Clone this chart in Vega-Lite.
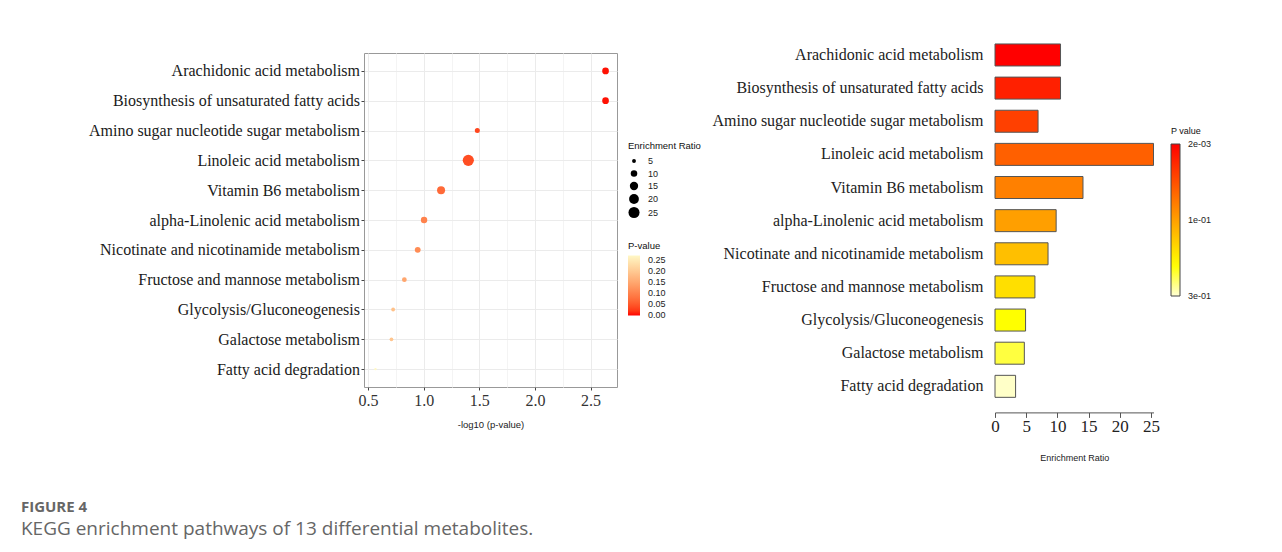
{
  "$schema": "https://vega.github.io/schema/vega-lite/v6.json",
  "background": "white",
  "padding": {"left": 20, "top": 43, "right": 5, "bottom": 5},
  "data": {
    "values": [
      {"Pathway": "Arachidonic acid metabolism", "neglogp": 2.635, "p": 0.00232, "ratio": 10.5},
      {"Pathway": "Biosynthesis of unsaturated fatty acids", "neglogp": 2.635, "p": 0.00232, "ratio": 10.5},
      {"Pathway": "Amino sugar nucleotide sugar metabolism", "neglogp": 1.482, "p": 0.033, "ratio": 6.9},
      {"Pathway": "Linoleic acid metabolism", "neglogp": 1.401, "p": 0.0397, "ratio": 25.4},
      {"Pathway": "Vitamin B6 metabolism", "neglogp": 1.156, "p": 0.0698, "ratio": 14.1},
      {"Pathway": "alpha-Linolenic acid metabolism", "neglogp": 1.003, "p": 0.0993, "ratio": 9.8},
      {"Pathway": "Nicotinate and nicotinamide metabolism", "neglogp": 0.946, "p": 0.1132, "ratio": 8.5},
      {"Pathway": "Fructose and mannose metabolism", "neglogp": 0.826, "p": 0.1493, "ratio": 6.4},
      {"Pathway": "Glycolysis/Gluconeogenesis", "neglogp": 0.725, "p": 0.1884, "ratio": 4.9},
      {"Pathway": "Galactose metabolism", "neglogp": 0.71, "p": 0.195, "ratio": 4.7},
      {"Pathway": "Fatty acid degradation", "neglogp": 0.566, "p": 0.2716, "ratio": 3.3}
    ]
  },
  "title": {
    "text": "FIGURE 4",
    "subtitle": "KEGG enrichment pathways of 13 differential metabolites.",
    "orient": "bottom",
    "anchor": "start",
    "font": "Open Sans",
    "fontSize": 15,
    "fontWeight": "bold",
    "color": "#666666",
    "subtitleFont": "Open Sans",
    "subtitleFontSize": 19,
    "subtitleColor": "#666666",
    "subtitlePadding": 5,
    "offset": 38,
    "dx": -67
  },
  "spacing": 9,
  "resolve": {
    "scale": {"color": "independent", "size": "independent", "fill": "independent", "x": "independent", "y": "independent"},
    "legend": {"color": "independent", "size": "independent"}
  },
  "hconcat": [
    {
      "width": 253,
      "height": 334,
      "view": {"stroke": "#999999", "strokeWidth": 1},
      "mark": {"type": "circle", "opacity": 1},
      "encoding": {
        "x": {
          "field": "neglogp",
          "type": "quantitative",
          "scale": {"domain": [0.463, 2.738], "nice": false, "zero": false},
          "axis": {
            "values": [0.5, 0.75, 1, 1.25, 1.5, 1.75, 2, 2.25, 2.5],
            "labelExpr": "datum.value % 0.5 == 0 ? format(datum.value, '.1f') : ''",
            "title": "-log10 (p-value)",
            "titleFont": "Liberation Sans",
            "titleFontSize": 9.5,
            "titleFontWeight": "normal",
            "titleColor": "#222222",
            "titlePadding": 11,
            "labelFont": "Liberation Serif",
            "labelFontSize": 16,
            "labelColor": "#333333",
            "labelPadding": 2,
            "labelOverlap": false,
            "labelFlush": false,
            "grid": true,
            "gridColor": {"condition": {"test": "datum.value % 0.5 == 0", "value": "#EBEBEB"}, "value": "#F4F4F4"},
            "tickOpacity": {"condition": {"test": "datum.value % 0.5 == 0", "value": 1}, "value": 0},
            "tickColor": "#444444",
            "tickSize": 3,
            "domain": false
          }
        },
        "y": {
          "field": "Pathway",
          "type": "nominal",
          "sort": null,
          "scale": {"type": "point", "padding": 0.6},
          "axis": {
            "title": null,
            "labelFont": "Liberation Serif",
            "labelFontSize": 16,
            "labelColor": "#1a1a1a",
            "labelPadding": 1.5,
            "labelLimit": 0,
            "tickSize": 3,
            "tickColor": "#444444",
            "grid": true,
            "gridColor": "#EBEBEB",
            "domain": false
          }
        },
        "size": {
          "field": "ratio",
          "type": "quantitative",
          "scale": {"domain": [3.3, 25.4], "range": [6, 125], "zero": false, "nice": false},
          "legend": {
            "title": "Enrichment Ratio",
            "values": [5, 10, 15, 20, 25],
            "orient": "none",
            "legendX": 264,
            "legendY": 88,
            "symbolFillColor": "black",
            "symbolStrokeColor": "black",
            "symbolStrokeWidth": 0,
            "symbolOpacity": 1,
            "rowPadding": 2.5,
            "labelOffset": 8,
            "titleFont": "Liberation Sans",
            "titleFontSize": 9.5,
            "titleFontWeight": "normal",
            "titleColor": "#111111",
            "titlePadding": 6,
            "labelFont": "Liberation Sans",
            "labelFontSize": 9,
            "labelColor": "#222222"
          }
        },
        "color": {
          "field": "p",
          "type": "quantitative",
          "scale": {"domain": [-0.001, 0.272], "range": ["#FF0000", "#FFF8C6"], "interpolate": "lab", "nice": false, "zero": false},
          "legend": {
            "title": "P-value",
            "values": [0, 0.05, 0.1, 0.15, 0.2, 0.25],
            "format": ".2f",
            "orient": "none",
            "legendX": 264,
            "legendY": 188,
            "gradientLength": 60,
            "gradientThickness": 12,
            "gradientStrokeWidth": 0,
            "labelOverlap": false,
            "labelOffset": 8,
            "titleFont": "Liberation Sans",
            "titleFontSize": 9.5,
            "titleFontWeight": "normal",
            "titleColor": "#111111",
            "titlePadding": 5,
            "labelFont": "Liberation Sans",
            "labelFontSize": 9,
            "labelColor": "#222222"
          }
        }
      }
    },
    {
      "width": 158.5,
      "height": 334,
      "view": {"stroke": null},
      "encoding": {
        "y": {
          "field": "Pathway",
          "type": "nominal",
          "sort": null,
          "scale": {"paddingInner": 0.336, "paddingOuter": 0.168, "range": [-14.6, 349.9]},
          "axis": {
            "title": null,
            "ticks": false,
            "domain": false,
            "grid": false,
            "labelPadding": 12,
            "labelLimit": 0,
            "labelFont": "Liberation Serif",
            "labelFontSize": 16,
            "labelColor": "#222222"
          }
        },
        "x": {
          "field": "ratio",
          "type": "quantitative",
          "scale": {"domain": [0, 25.4], "nice": false},
          "axis": {
            "values": [0, 5, 10, 15, 20, 25],
            "title": "Enrichment Ratio",
            "titleFont": "Liberation Sans",
            "titleFontSize": 9,
            "titleFontWeight": "normal",
            "titleColor": "#222222",
            "titlePadding": 19,
            "offset": 25.4,
            "grid": false,
            "domainColor": "#555555",
            "tickColor": "#555555",
            "tickSize": 5,
            "labelFont": "Liberation Serif",
            "labelFontSize": 17,
            "labelColor": "#222222",
            "labelPadding": 1,
            "labelOverlap": false,
            "labelFlush": false
          }
        }
      },
      "layer": [
        {
          "mark": {"type": "bar", "stroke": "#555555", "strokeWidth": 1},
          "encoding": {
            "fill": {
              "field": "Pathway",
              "type": "nominal",
              "scale": {
                "domain": ["Arachidonic acid metabolism", "Biosynthesis of unsaturated fatty acids", "Amino sugar nucleotide sugar metabolism", "Linoleic acid metabolism", "Vitamin B6 metabolism", "alpha-Linolenic acid metabolism", "Nicotinate and nicotinamide metabolism", "Fructose and mannose metabolism", "Glycolysis/Gluconeogenesis", "Galactose metabolism", "Fatty acid degradation"],
                "range": ["#FF0000", "#FF2000", "#FF4000", "#FF6000", "#FF8000", "#FF9F00", "#FFBF00", "#FFDF00", "#FFFF00", "#FFFF40", "#FFFFC8"]
              },
              "legend": null
            }
          }
        },
        {
          "mark": {"type": "point", "opacity": 0},
          "encoding": {
            "color": {
              "field": "p",
              "type": "quantitative",
              "scale": {"domain": [0.272, 0.218, 0.0023], "range": ["#FFFFD5", "#FFFF00", "#FF0000"], "interpolate": "rgb", "nice": false, "zero": false},
              "legend": {
                "title": "P value",
                "values": [0.00231, 0.1372, 0.2719],
                "labelExpr": "replace(format(datum.value, '.0e'), regexp('e-(\\\\d)$'), 'e-0$1')",
                "orient": "none",
                "legendX": 176,
                "legendY": 74,
                "gradientLength": 152,
                "gradientThickness": 9,
                "gradientStrokeColor": "#444444",
                "gradientStrokeWidth": 1,
                "labelOverlap": false,
                "titleFont": "Liberation Sans",
                "titleFontSize": 9,
                "titleFontWeight": "normal",
                "titleColor": "#111111",
                "titlePadding": 8,
                "labelFont": "Liberation Sans",
                "labelFontSize": 9,
                "labelColor": "#222222",
                "labelOffset": 8
              }
            }
          }
        }
      ]
    }
  ],
  "config": {
    "axis": {"labelFontWeight": "normal"}
  }
}
